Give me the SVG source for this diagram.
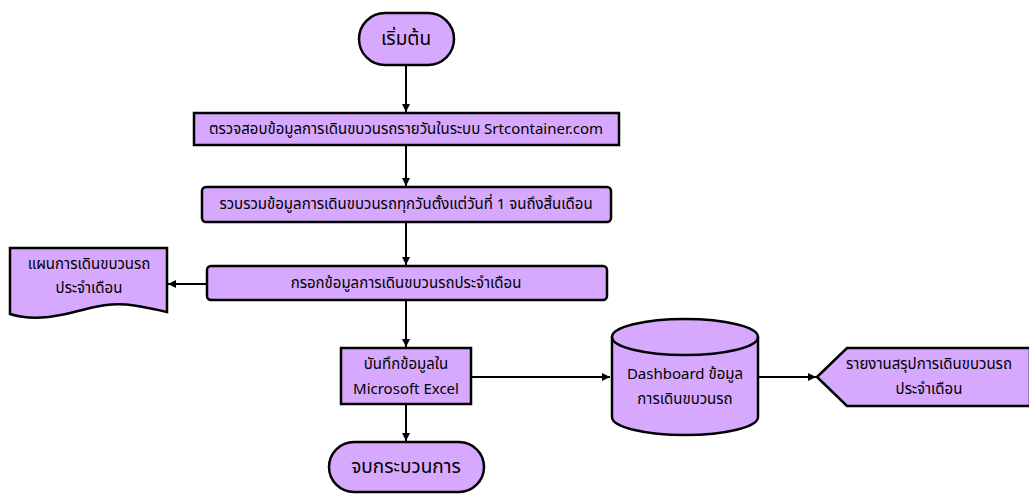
<svg xmlns="http://www.w3.org/2000/svg" width="1029" height="494" viewBox="0 0 1029 494">
  <style>
    .shape { fill: #D6A9FE; stroke: #000; stroke-width: 2.5; }
    .lbl { font-family: "Noto Sans Thai", "Noto Sans", "DejaVu Sans", sans-serif; font-size: 15px; fill: #000; text-anchor: middle; dominant-baseline: central; }
    .big { font-size: 19px; }
    .conn { stroke: #000; stroke-width: 2; fill: none; marker-end: url(#arrow); }
  </style>
  <defs>
    <marker id="arrow" viewBox="0 0 10 10" refX="10" refY="5" markerWidth="4" markerHeight="4" markerUnits="strokeWidth" orient="auto">
      <path d="M0,0 L10,5 L0,10 z" fill="#000"/>
    </marker>
  </defs>
  <rect width="1029" height="494" fill="#fff"/>

  <g id="connectors">
    <line class="conn" x1="406" y1="65" x2="406" y2="112"/>
    <line class="conn" x1="406" y1="145" x2="406" y2="186"/>
    <line class="conn" x1="406" y1="222" x2="406" y2="265"/>
    <line class="conn" x1="207" y1="284" x2="168" y2="284"/>
    <line class="conn" x1="406" y1="300" x2="406" y2="347"/>
    <line class="conn" x1="406" y1="404" x2="406" y2="441"/>
    <line class="conn" x1="471" y1="377" x2="610" y2="377"/>
    <line class="conn" x1="758" y1="377" x2="816" y2="377"/>
  </g>

  <g id="start">
    <rect class="shape" x="359" y="13" width="95" height="52" rx="26"/>
    <text class="lbl big" x="406" y="39">เริ่มต้น</text>
  </g>

  <g id="check">
    <rect class="shape" x="194" y="113" width="425" height="32"/>
    <text class="lbl" x="406" y="129">ตรวจสอบข้อมูลการเดินขบวนรถรายวันในระบบ Srtcontainer.com</text>
  </g>

  <g id="collect">
    <rect class="shape" x="202" y="187" width="409" height="35" rx="4"/>
    <text class="lbl" x="406" y="204.5">รวบรวมข้อมูลการเดินขบวนรถทุกวันตั้งแต่วันที่ 1 จนถึงสิ้นเดือน</text>
  </g>

  <g id="fill-in">
    <rect class="shape" x="207" y="266" width="400" height="34" rx="4"/>
    <text class="lbl" x="406" y="283">กรอกข้อมูลการเดินขบวนรถประจำเดือน</text>
  </g>

  <g id="plan-doc">
    <path class="shape" d="M10,248 L167,248 L167,312 C140,306 120,300 90,308 C60,316 35,322 10,314 Z"/>
    <text class="lbl" x="89" y="264">แผนการเดินขบวนรถ</text>
    <text class="lbl" x="89" y="288">ประจำเดือน</text>
  </g>

  <g id="excel">
    <rect class="shape" x="341" y="348" width="130" height="56"/>
    <text class="lbl" x="406" y="364">บันทึกข้อมูลใน</text>
    <text class="lbl" x="406" y="389">Microsoft Excel</text>
  </g>

  <g id="end">
    <rect class="shape" x="329" y="442" width="155" height="50" rx="25"/>
    <text class="lbl big" x="406" y="467">จบกระบวนการ</text>
  </g>

  <g id="dashboard">
    <path class="shape" d="M612,337 L612,417 A73,18 0 0 0 758,417 L758,337 A73,18 0 0 0 612,337 Z"/>
    <path d="M612,337 A73,18 0 0 0 758,337" fill="none" stroke="#000" stroke-width="2.5"/>
    <text class="lbl" x="685" y="374">Dashboard ข้อมูล</text>
    <text class="lbl" x="685" y="399">การเดินขบวนรถ</text>
  </g>

  <g id="report">
    <path class="shape" d="M817,377 L847,348 L1030,348 L1030,406 L847,406 Z"/>
    <text class="lbl" x="929" y="364">รายงานสรุปการเดินขบวนรถ</text>
    <text class="lbl" x="929" y="389">ประจำเดือน</text>
  </g>
</svg>
